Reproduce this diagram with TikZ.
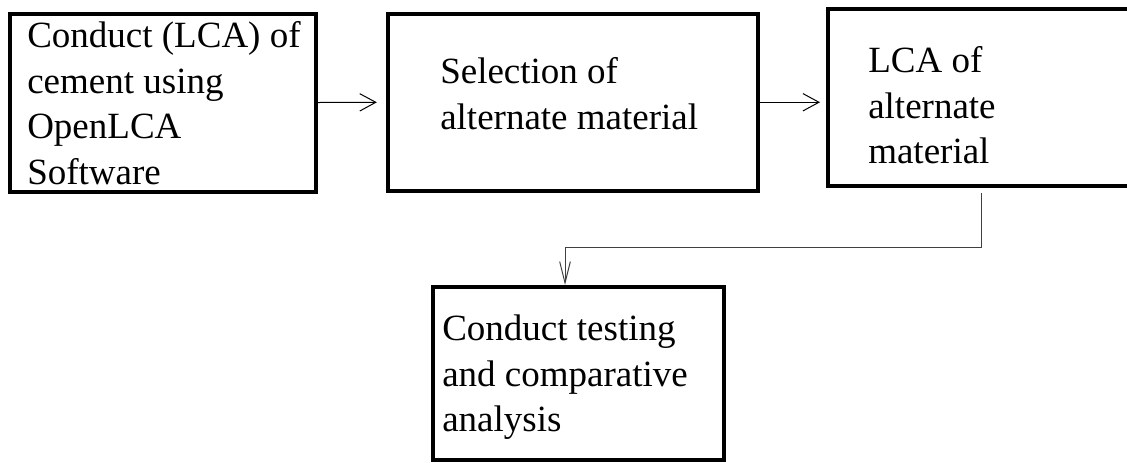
\documentclass[tikz,border=0pt]{standalone}
\usepackage{fontspec}
\setmainfont{Liberation Serif}
\usetikzlibrary{arrows.meta}

\begin{document}
\begin{tikzpicture}[x=0.75pt,y=-0.75pt,
  blk/.style n args={2}{draw,line width=3pt,rectangle,inner sep=0pt,minimum width=#1*0.75pt,minimum height=#2*0.75pt},
  txt/.style={anchor=north west,inner sep=0pt,align=left,font=\fontsize{27.75}{34.3}\selectfont},
  flow/.style={-{Straight Barb[length=12pt,width=13pt]},line width=0.75pt},
  drop/.style={-{Straight Barb[length=16pt,width=8pt]},line width=0.75pt,black!75}]
\useasboundingbox (0,0) rectangle (1127,462);
\clip (0,0) rectangle (1127,462);
\node[blk={306}{178}] (s1) at (163,102.5) {};
\node[blk={370.5}{177.5}] (s2) at (572.75,102.25) {};
\node[blk={307}{177.5}] (s3) at (981.5,97.25) {};
\node[blk={291}{173}] (s4) at (578.5,373.5) {};
\node[txt] (t1) at (27,15) {\strut Conduct (LCA) of\\cement using\\OpenLCA\\Software};
\node[txt] (t2) at (440,51) {\strut Selection of\\alternate material};
\node[txt] (t3) at (868,40) {\strut LCA of\\alternate\\material};
\node[txt] (t4) at (442,308) {\strut Conduct testing\\and comparative\\analysis};
\coordinate (bend) at (565,247);
\draw[flow,shorten >=6.5pt] (s1.east) -- (s2.west);
\draw[flow,shorten >=4.5pt] (s2.east) -- (s2.east -| s3.west);
\draw[drop,shorten <=4pt] (s3.south) |- (bend) -- (bend |- s4.north);
\end{tikzpicture}
\end{document}
